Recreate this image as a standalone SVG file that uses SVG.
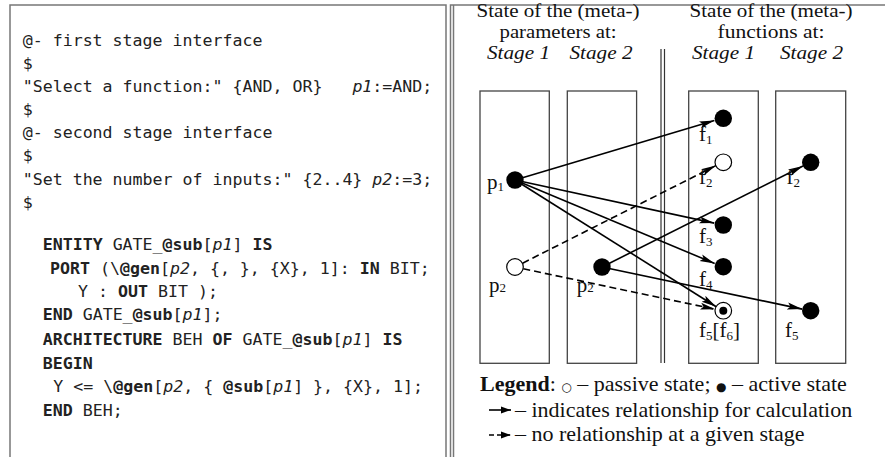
<svg xmlns="http://www.w3.org/2000/svg" width="885" height="457" viewBox="0 0 885 457">
<style>
.code{font-family:"DejaVu Sans Mono","Liberation Mono",monospace;font-size:16.6px;fill:#222;white-space:pre}
.b{font-weight:bold}
.i{font-style:italic}
.serif{font-family:"Liberation Serif","Times New Roman",serif;font-size:21px;fill:#111}
.ttl{font-family:"Liberation Serif","Times New Roman",serif;font-size:19px;fill:#111}
.it{font-style:italic}
.sub{font-size:13px}
.frame{fill:none;stroke:#777;stroke-width:1.5}
.box{fill:none;stroke:#444;stroke-width:1.3}
.sol{stroke:#000;stroke-width:1.6;fill:none;marker-end:url(#ah)}
.dash{stroke:#000;stroke-width:1.6;fill:none;stroke-dasharray:7 4;marker-end:url(#ah)}
.on{fill:#000}
.off{fill:#fff;stroke:#000;stroke-width:1.2}
.leg{font-family:"Liberation Serif","Times New Roman",serif;font-size:22px;fill:#111}
</style>
<defs>
<marker id="ah" markerUnits="userSpaceOnUse" markerWidth="16" markerHeight="9" refX="15" refY="4" orient="auto">
<path d="M0,0.5 L15,4 L0,7.5 L3,4 z" fill="#000"/>
</marker>
</defs>
<rect width="885" height="457" fill="#fff"/>
<g id="code-panel">
<path class="frame" d="M10,460 V5 H446 V460"/>
<text class="code" x="22.7" y="46">@- first stage interface</text>
<text class="code" x="22.7" y="69">$</text>
<text class="code" x="22.7" y="92">"Select a function:" {AND, OR}   <tspan class="i">p1</tspan>:=AND;</text>
<text class="code" x="22.7" y="115">$</text>
<text class="code" x="22.7" y="138">@- second stage interface</text>
<text class="code" x="22.7" y="161">$</text>
<text class="code" x="22.7" y="185">"Set the number of inputs:" {2..4} <tspan class="i">p2</tspan>:=3;</text>
<text class="code" x="22.7" y="208">$</text>
<text class="code" x="42.7" y="250"><tspan class="b">ENTITY</tspan> GATE_<tspan class="b">@sub</tspan>[<tspan class="i">p1</tspan>] <tspan class="b">IS</tspan></text>
<text class="code" x="50" y="274"><tspan class="b">PORT</tspan> (\<tspan class="b">@gen</tspan>[<tspan class="i">p2</tspan>, {, }, {X}, 1]: <tspan class="b">IN</tspan> BIT;</text>
<text class="code" x="78" y="297">Y : <tspan class="b">OUT</tspan> BIT );</text>
<text class="code" x="42.7" y="320"><tspan class="b">END</tspan> GATE_<tspan class="b">@sub</tspan>[<tspan class="i">p1</tspan>];</text>
<text class="code" x="42.7" y="345"><tspan class="b">ARCHITECTURE</tspan> BEH <tspan class="b">OF</tspan> GATE_<tspan class="b">@sub</tspan>[<tspan class="i">p1</tspan>] <tspan class="b">IS</tspan></text>
<text class="code" x="42.7" y="369"><tspan class="b">BEGIN</tspan></text>
<text class="code" x="53.3" y="392">Y &lt;= \<tspan class="b">@gen</tspan>[<tspan class="i">p2</tspan>, { <tspan class="b">@sub</tspan>[<tspan class="i">p1</tspan>] }, {X}, 1];</text>
<text class="code" x="42.7" y="416"><tspan class="b">END</tspan> BEH;</text>
</g>
<g id="diagram-panel">
<path class="frame" d="M450.5,460 V5 H890"/>
<line x1="453.5" y1="5" x2="453.5" y2="460" stroke="#777" stroke-width="1.5"/>
<line x1="661" y1="49" x2="661" y2="363" stroke="#333" stroke-width="1.2"/>
<line x1="664.5" y1="49" x2="664.5" y2="363" stroke="#333" stroke-width="1.2"/>
<text class="ttl" x="558" y="16.5" text-anchor="middle" textLength="163" lengthAdjust="spacingAndGlyphs">State of the (meta-)</text>
<text class="ttl" x="558" y="37.6" text-anchor="middle" textLength="117" lengthAdjust="spacingAndGlyphs">parameters at:</text>
<text class="ttl it" x="518.5" y="58.7" text-anchor="middle" textLength="63" lengthAdjust="spacingAndGlyphs">Stage 1</text>
<text class="ttl it" x="601" y="58.7" text-anchor="middle" textLength="63" lengthAdjust="spacingAndGlyphs">Stage 2</text>
<text class="ttl" x="771" y="16.5" text-anchor="middle" textLength="163" lengthAdjust="spacingAndGlyphs">State of the (meta-)</text>
<text class="ttl" x="771" y="37.6" text-anchor="middle" textLength="107" lengthAdjust="spacingAndGlyphs">functions at:</text>
<text class="ttl it" x="723.5" y="58.7" text-anchor="middle" textLength="63" lengthAdjust="spacingAndGlyphs">Stage 1</text>
<text class="ttl it" x="811.5" y="58.7" text-anchor="middle" textLength="63" lengthAdjust="spacingAndGlyphs">Stage 2</text>
</g>
<g id="param-stage1"><rect class="box" x="480" y="91" width="69.3" height="272.3"/></g>
<g id="param-stage2"><rect class="box" x="567.3" y="91" width="69.3" height="272.3"/></g>
<g id="func-stage1"><rect class="box" x="688.7" y="91" width="69.6" height="272.3"/></g>
<g id="func-stage2"><rect class="box" x="775.7" y="91" width="70" height="272.3"/></g>
<g id="connectors">
<line class="sol" x1="515" y1="180" x2="714.4" y2="120.6"/>
<line class="sol" x1="515" y1="180" x2="714.2" y2="223.1"/>
<line class="sol" x1="515" y1="180" x2="714.7" y2="263.5"/>
<line class="sol" x1="515" y1="180" x2="716.2" y2="306.7"/>
<line class="sol" x1="602" y1="267" x2="803" y2="166"/>
<line class="sol" x1="602" y1="267" x2="802.2" y2="309.1"/>
<line class="dash" x1="522.6" y1="263.2" x2="715.9" y2="165.6"/>
<line class="dash" x1="523.3" y1="268.8" x2="715.2" y2="309.3"/>
</g>
<g id="p1"><circle class="on" cx="515" cy="180" r="8.7"/><text class="serif" x="487" y="189">p<tspan class="sub" dy="2">1</tspan></text></g>
<g id="p2-stage1"><circle class="off" cx="515" cy="267" r="8.3"/><text class="serif" x="489" y="292">p<tspan class="sub" dy="0">2</tspan></text></g>
<g id="p2-stage2"><circle class="on" cx="602" cy="267" r="8.7"/><text class="serif" x="576.7" y="292">p<tspan class="sub" dy="0">2</tspan></text></g>
<g id="f1"><circle class="on" cx="723.3" cy="118.3" r="8.7"/><text class="serif" x="699" y="141">f<tspan class="sub" dy="3">1</tspan></text></g>
<g id="f2-stage1"><circle class="off" cx="723.3" cy="162.3" r="8.3"/><text class="serif" x="699" y="184">f<tspan class="sub" dy="3">2</tspan></text></g>
<g id="f2-stage2"><circle class="on" cx="810.7" cy="162.3" r="8.7"/><text class="serif" x="786.5" y="184">f<tspan class="sub" dy="3">2</tspan></text></g>
<g id="f3"><circle class="on" cx="723.3" cy="225" r="8.7"/><text class="serif" x="699" y="243">f<tspan class="sub" dy="3">3</tspan></text></g>
<g id="f4"><circle class="on" cx="723.3" cy="266.7" r="8.7"/><text class="serif" x="699" y="286">f<tspan class="sub" dy="3">4</tspan></text></g>
<g id="f5-stage1"><circle class="off" cx="723.3" cy="310.7" r="8.3"/><circle class="on" cx="723.3" cy="310.7" r="4"/><text class="serif" x="699" y="337">f<tspan class="sub" dy="3">5</tspan><tspan dy="-3">[f</tspan><tspan class="sub" dy="3">6</tspan><tspan dy="-3">]</tspan></text></g>
<g id="f5-stage2"><circle class="on" cx="810.7" cy="310.7" r="8.7"/><text class="serif" x="785" y="337">f<tspan class="sub" dy="3">5</tspan></text></g>
<g id="legend">
<text class="leg" x="480" y="391"><tspan font-weight="bold">Legend</tspan>: <tspan font-family="DejaVu Sans" font-size="12">○</tspan> – passive state; <tspan font-family="DejaVu Sans" font-size="12">●</tspan> – active state</text>
<line x1="489" y1="410" x2="511" y2="410" stroke="#000" stroke-width="1.6"/>
<path d="M501,406.5 L511,410 L501,413.5 z" fill="#000"/>
<text class="leg" x="515" y="417">– indicates relationship for calculation</text>
<line x1="489" y1="435" x2="511" y2="435" stroke="#000" stroke-width="1.6" stroke-dasharray="5 3"/>
<path d="M501,431.5 L511,435 L501,438.5 z" fill="#000"/>
<text class="leg" x="515" y="441">– no relationship at a given stage</text>
</g>
</svg>
